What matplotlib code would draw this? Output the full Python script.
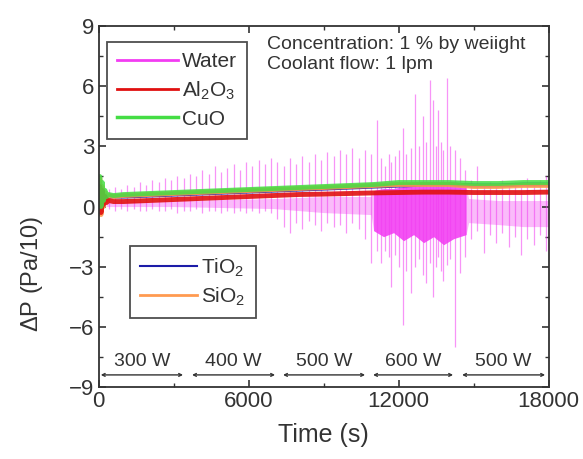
import matplotlib
matplotlib.use('Agg')
import matplotlib.pyplot as plt
from matplotlib.lines import Line2D
from matplotlib.ticker import MultipleLocator

plt.rcParams['font.family'] = ['Liberation Sans', 'DejaVu Sans']
plt.rcParams['mathtext.fontset'] = 'custom'
plt.rcParams['mathtext.rm'] = 'Liberation Sans'
plt.rcParams['mathtext.it'] = 'Liberation Sans'

# --- nanofluid traces ---
t_fluid = [0, 50, 100, 150, 200, 260, 320, 400, 600, 1000, 2000, 3000, 4000, 5000,
           6000, 7000, 8000, 9000, 10000, 11000, 12000, 13000, 14000, 15000, 16000,
           17000, 18000]
al2o3 = [0.0, 1.0, -0.3, 0.8, 0.1, 0.5, 0.2, 0.3, 0.25, 0.25, 0.3, 0.35, 0.4, 0.45,
         0.5, 0.55, 0.6, 0.62, 0.65, 0.68, 0.7, 0.72, 0.72, 0.7, 0.7, 0.7, 0.72]
cuo = [0.2, 1.5, 0.0, 1.2, 0.3, 0.8, 0.5, 0.6, 0.55, 0.6, 0.65, 0.7, 0.75, 0.8,
       0.85, 0.9, 0.95, 1.0, 1.05, 1.1, 1.2, 1.2, 1.2, 1.15, 1.15, 1.2, 1.2]
tio2 = [0.1, 1.2, -0.2, 0.9, 0.2, 0.6, 0.4, 0.5, 0.5, 0.5, 0.55, 0.6, 0.65, 0.7,
        0.75, 0.8, 0.85, 0.9, 0.95, 1.0, 1.05, 1.1, 1.1, 1.05, 1.05, 1.1, 1.1]
sio2 = [0.0, 1.4, -0.4, 1.0, 0.0, 0.7, 0.3, 0.55, 0.5, 0.55, 0.6, 0.65, 0.7, 0.75,
        0.8, 0.85, 0.9, 0.95, 1.0, 1.05, 1.1, 1.1, 1.1, 1.0, 1.0, 1.05, 1.05]

# --- water: noisy background band and individual spikes ---
water_band_t = [300, 3000, 7000, 9000, 10900, 11000, 11400, 11800, 12200, 12600, 13000,
                13400, 13800, 14200, 14700, 14800, 16000, 17000, 18000]
water_band_hi = [0.2, 0.3, 0.4, 0.5, 0.5, 0.8, 0.9, 0.9, 1.0, 1.0, 1.0, 1.0, 1.0, 1.0,
                 1.0, 0.4, 0.3, 0.3, 0.3]
water_band_lo = [0.0, 0.0, -0.1, -0.3, -0.4, -1.2, -1.5, -1.3, -1.7, -1.4, -1.8, -1.5,
                 -1.9, -1.6, -1.4, -0.8, -0.9, -1.0, -1.0]

water_t = [400, 650, 900, 1150, 1400, 1650, 1900, 2150, 2400, 2650, 2900, 3150, 3400,
           3650, 3900, 4150, 4400, 4650, 4900, 5150, 5400, 5650, 5900, 6150, 6400, 6650,
           6900,
           7150, 7400, 7650, 7900, 8150, 8400, 8650, 8900, 9150, 9400, 9650, 9900, 10150,
           10400, 10650, 10900,
           11130, 11300, 11450, 11600, 11700, 11850, 12000, 12180, 12300, 12500, 12660,
           12800, 12980, 13110, 13260, 13380, 13500, 13570, 13700, 13780, 13930, 14050,
           14250, 14450, 14650,
           14900, 15150, 15400, 15650, 15900, 16150, 16400, 16650, 16900, 17150, 17400,
           17650, 17900]
water_hi = [0.9, 1.0, 0.9, 1.1, 1.0, 1.2, 1.1, 1.3, 1.2, 1.4, 1.3, 1.5, 1.4, 1.6, 1.5,
            1.8, 1.6, 2.0, 1.7, 1.9, 2.1, 1.8, 2.2, 2.0, 2.3, 2.1, 2.4,
            2.2, 2.0, 2.4, 2.1, 2.5, 2.2, 2.6, 2.3, 2.7, 2.5, 2.8, 2.6, 2.9, 2.4, 2.8, 2.6,
            4.3, 2.4, 2.0, 2.6, 2.2, 2.5, 2.8, 3.9, 2.6, 2.9, 5.6, 3.0, 4.5, 3.2, 6.3, 5.3,
            3.0, 4.8, 3.2, 2.8, 6.4, 3.0, 2.8, 2.4, 1.8,
            1.3, 2.0, 1.1, 1.2, 1.0, 1.3, 1.1, 1.2, 1.0, 1.4, 1.1, 1.3, 1.5]
water_lo = [-0.1, -0.2, -0.1, -0.2, -0.1, -0.2, -0.2, -0.1, -0.2, -0.2, -0.1, -0.3,
            -0.2, -0.2, -0.1, -0.3, -0.2, -0.2, -0.3, -0.2, -0.3, -0.2, -0.3, -0.2, -0.3,
            -0.2, -0.3,
            -0.6, -1.0, -1.3, -0.8, -1.1, -0.7, -0.9, -1.2, -0.8, -1.0, -0.9, -1.3, -0.8,
            -1.1, -1.6, -2.8,
            -2.2, -2.8, -2.2, -2.5, -4.0, -2.4, -3.0, -5.9, -3.2, -4.3, -3.0, -2.6, -3.4,
            -3.8, -2.8, -4.5, -3.0, -2.5, -3.2, -3.7, -2.9, -2.6, -7.0, -3.3, -2.5,
            -1.6, -1.2, -2.3, -1.4, -1.8, -1.3, -2.0, -1.5, -2.4, -1.6, -1.9, -1.4, -2.2]

# --- heater power steps ---
power_labels = ["300 W", "400 W", "500 W", "600 W", "500 W"]
power_start = [90, 3740, 7380, 10980, 14540]
power_end = [3380, 7060, 10660, 14180, 17860]

C_WATER = '#f23cf2'
C_AL = '#e01010'
C_CUO = '#44dd44'
C_TI = '#1c1ca8'
C_SI = '#ff9a50'

fig = plt.figure(figsize=(5.83, 4.59), dpi=100)
ax = fig.add_axes([0.169, 0.157, 0.772, 0.786])

# water
ax.fill_between(water_band_t, water_band_lo, water_band_hi, color=C_WATER, alpha=0.35,
                lw=0)
ax.vlines(water_t, water_lo, water_hi, color=C_WATER, lw=0.9, alpha=0.55)
core = [i for i, t in enumerate(water_band_t) if 11000 <= t <= 14700]
ax.fill_between([water_band_t[i] for i in core], [water_band_lo[i] for i in core],
                [water_band_hi[i] for i in core], color='#f010f0', alpha=0.6, lw=0)

# nanofluids
ax.plot(t_fluid, tio2, color=C_TI, lw=3, alpha=0.9)
ax.plot(t_fluid, sio2, color=C_SI, lw=3.5, alpha=0.9)
ax.plot(t_fluid, al2o3, color=C_AL, lw=3.5, alpha=0.9)
ax.plot(t_fluid, cuo, color=C_CUO, lw=3.5, alpha=0.85)

# power steps
for lab, a, b in zip(power_labels, power_start, power_end):
    ax.annotate('', xy=(a, -8.4), xytext=(b, -8.4),
                arrowprops=dict(arrowstyle='<->', color='#333333', lw=1.0,
                                mutation_scale=5, shrinkA=0, shrinkB=0))
    ax.text((a + b) / 2, -8.15, lab, ha='center', va='bottom', fontsize=14,
            color='#333333')

ax.text(0.375, 0.972, "Concentration: 1 % by weiight\nCoolant flow: 1 lpm",
        transform=ax.transAxes, ha='left', va='top', fontsize=14, color='#333333',
        linespacing=1.2)

# legends
h1 = [Line2D([], [], color=C_WATER, lw=2), Line2D([], [], color=C_AL, lw=2),
      Line2D([], [], color=C_CUO, lw=2.5)]
leg1 = ax.legend(h1, ['Water', r'Al$_2$O$_3$', 'CuO'], loc='upper left',
                 bbox_to_anchor=(0.019, 0.956), fontsize=15, frameon=True,
                 fancybox=False, edgecolor='#222222', handlelength=2.9,
                 handletextpad=0.2, borderpad=0.5, labelspacing=0.38,
                 borderaxespad=0, labelcolor='#333333')
leg1.get_frame().set_linewidth(1.3)
ax.add_artist(leg1)
h2 = [Line2D([], [], color=C_TI, lw=1.5), Line2D([], [], color=C_SI, lw=2)]
leg2 = ax.legend(h2, [r'TiO$_2$', r'SiO$_2$'], loc='upper left',
                 bbox_to_anchor=(0.07, 0.39), fontsize=15, frameon=True,
                 fancybox=False, edgecolor='#222222', handlelength=2.7,
                 handletextpad=0.2, borderpad=0.5, labelspacing=0.3,
                 borderaxespad=0, labelcolor='#333333')
leg2.get_frame().set_linewidth(1.3)

ax.set_xlim(0, 18000)
ax.set_ylim(-9, 9)
ax.xaxis.set_major_locator(MultipleLocator(6000))
ax.xaxis.set_minor_locator(MultipleLocator(3000))
ax.yaxis.set_major_locator(MultipleLocator(3))
ax.yaxis.set_minor_locator(MultipleLocator(1.5))
ax.tick_params(which='both', direction='in', top=True, right=True, labelsize=16,
               colors='#333333', pad=3)
ax.tick_params(which='major', length=5, width=1.2)
ax.tick_params(which='minor', length=3, width=1.0)
for s in ax.spines.values():
    s.set_linewidth(1.3)
    s.set_color('#333333')

ax.set_xlabel('Time (s)', fontsize=18, color='#333333', labelpad=8)
ax.set_ylabel(r'$\Delta$P (Pa/10)', fontsize=17, color='#333333')
ax.yaxis.set_label_coords(-0.12, 0.313)

fig.savefig('out.png', dpi=100)
